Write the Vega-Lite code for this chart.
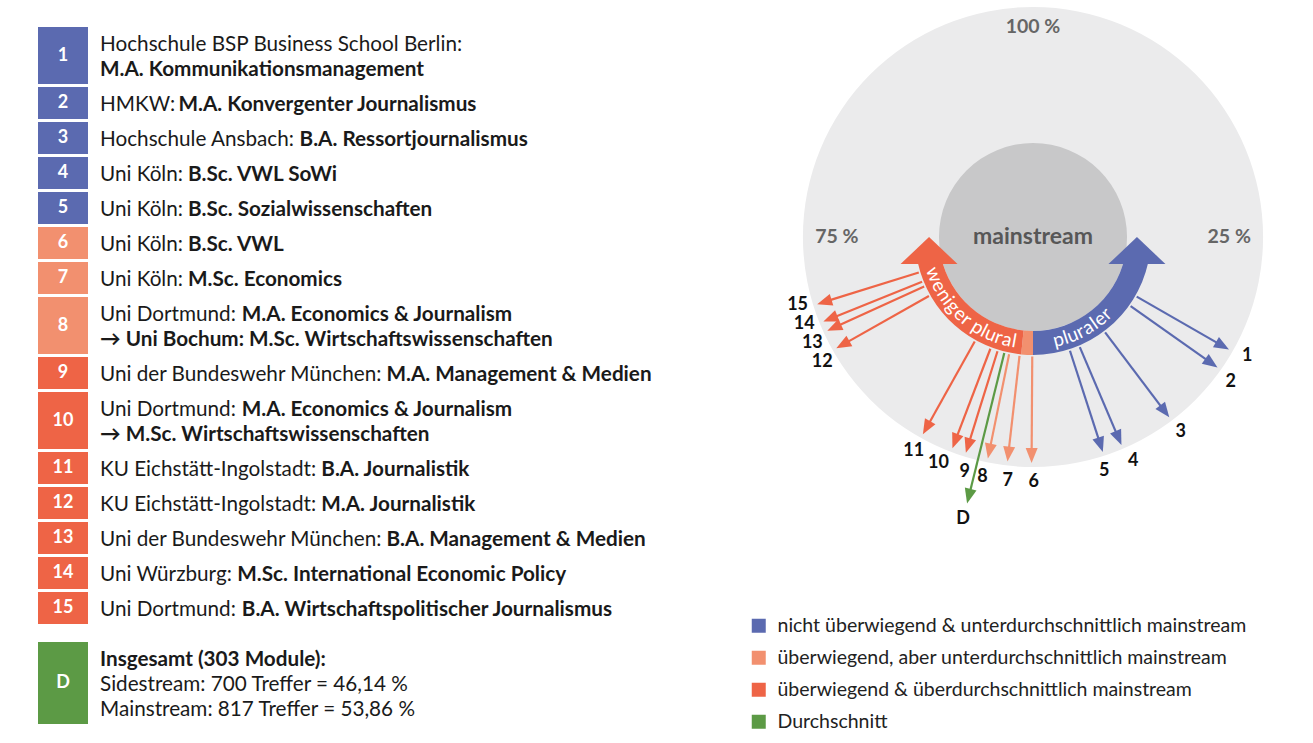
{
  "$schema": "https://vega.github.io/schema/vega-lite/v6.json",
  "width": 1313,
  "height": 743,
  "autosize": {"type": "none"},
  "padding": 0,
  "background": "white",
  "config": {
    "view": {"stroke": null},
    "font": "Lato",
    "legend": {
      "orient": "none",
      "legendX": 749,
      "legendY": 616,
      "symbolType": "square",
      "symbolSize": 196,
      "symbolStrokeWidth": 0,
      "labelFont": "Lato",
      "labelFontSize": 19.5,
      "labelColor": "#222222",
      "labelLimit": 700,
      "labelOffset": 9,
      "rowPadding": 11,
      "padding": 0
    }
  },
  "datasets": {
    "items": [
      {"i": 1, "id": "1", "cat": "nicht überwiegend & unterdurchschnittlich mainstream", "pct": 33.3, "reg": ["Hochschule BSP Business School Berlin:", ""], "bold": ["", "M.A. Kommunikationsmanagement"]},
      {"i": 2, "id": "2", "cat": "nicht überwiegend & unterdurchschnittlich mainstream", "pct": 34.8, "reg": ["HMKW: "], "bold": ["M.A. Konvergenter Journalismus"]},
      {"i": 3, "id": "3", "cat": "nicht überwiegend & unterdurchschnittlich mainstream", "pct": 39.7, "reg": ["Hochschule Ansbach: "], "bold": ["B.A. Ressortjournalismus"]},
      {"i": 4, "id": "4", "cat": "nicht überwiegend & unterdurchschnittlich mainstream", "pct": 43.6, "reg": ["Uni Köln: "], "bold": ["B.Sc. VWL SoWi"]},
      {"i": 5, "id": "5", "cat": "nicht überwiegend & unterdurchschnittlich mainstream", "pct": 45.0, "reg": ["Uni Köln: "], "bold": ["B.Sc. Sozialwissenschaften"]},
      {"i": 6, "id": "6", "cat": "überwiegend, aber unterdurchschnittlich mainstream", "pct": 50.1, "reg": ["Uni Köln: "], "bold": ["B.Sc. VWL"]},
      {"i": 7, "id": "7", "cat": "überwiegend, aber unterdurchschnittlich mainstream", "pct": 51.8, "reg": ["Uni Köln: "], "bold": ["M.Sc. Economics"]},
      {"i": 8, "id": "8", "cat": "überwiegend, aber unterdurchschnittlich mainstream", "pct": 53.2, "reg": ["Uni Dortmund: ", ""], "bold": ["M.A. Economics & Journalism", "→ Uni Bochum: M.Sc. Wirtschaftswissenschaften"]},
      {"i": 9, "id": "9", "cat": "überwiegend & überdurchschnittlich mainstream", "pct": 54.8, "reg": ["Uni der Bundeswehr München: "], "bold": ["M.A. Management & Medien"]},
      {"i": 10, "id": "10", "cat": "überwiegend & überdurchschnittlich mainstream", "pct": 55.8, "reg": ["Uni Dortmund: ", ""], "bold": ["M.A. Economics & Journalism", "→ M.Sc. Wirtschaftswissenschaften"]},
      {"i": 11, "id": "11", "cat": "überwiegend & überdurchschnittlich mainstream", "pct": 58.1, "reg": ["KU Eichstätt-Ingolstadt: "], "bold": ["B.A. Journalistik"]},
      {"i": 12, "id": "12", "cat": "überwiegend & überdurchschnittlich mainstream", "pct": 66.8, "reg": ["KU Eichstätt-Ingolstadt: "], "bold": ["M.A. Journalistik"]},
      {"i": 13, "id": "13", "cat": "überwiegend & überdurchschnittlich mainstream", "pct": 68.2, "reg": ["Uni der Bundeswehr München: "], "bold": ["B.A. Management & Medien"]},
      {"i": 14, "id": "14", "cat": "überwiegend & überdurchschnittlich mainstream", "pct": 68.9, "reg": ["Uni Würzburg: "], "bold": ["M.Sc. International Economic Policy"]},
      {"i": 15, "id": "15", "cat": "überwiegend & überdurchschnittlich mainstream", "pct": 70.2, "reg": ["Uni Dortmund: "], "bold": ["B.A. Wirtschaftspolitischer Journalismus"]},
      {"i": 16, "id": "D", "cat": "Durchschnitt", "pct": 53.86, "reg": ["", "Sidestream: 700 Treffer = 46,14 %", "Mainstream: 817 Treffer = 53,86 %"], "bold": ["Insgesamt (303 Module):", "", ""]}
    ],
    "bands": [
      {"from": 28.5, "to": 50, "cat": "nicht überwiegend & unterdurchschnittlich mainstream"},
      {"from": 50, "to": 51.6, "cat": "überwiegend, aber unterdurchschnittlich mainstream"},
      {"from": 51.6, "to": 71.5, "cat": "überwiegend & überdurchschnittlich mainstream"}
    ],
    "bandHeads": [
      {"pct": 25, "cat": "nicht überwiegend & unterdurchschnittlich mainstream"},
      {"pct": 75, "cat": "überwiegend & überdurchschnittlich mainstream"}
    ],
    "bandTexts": [
      {"txt": "weniger plural", "start": 70.3},
      {"txt": "pluraler", "start": 46.9}
    ],
    "scaleLabels": [
      {"pct": 100, "t": "100 %"},
      {"pct": 75, "t": "75 %"},
      {"pct": 25, "t": "25 %"}
    ]
  },
  "layer": [
    {
      "data": {"name": "items"},
      "transform": [
        {"calculate": "length(datum.reg)", "as": "n"},
        {"calculate": "datum.n + 0.4", "as": "h"},
        {"window": [{"op": "sum", "field": "h", "as": "cum"}], "sort": [{"field": "i", "order": "ascending"}], "frame": [null, 0]},
        {"calculate": "datum.cum - datum.h + (datum.id === 'D' ? 0.6 : 0)", "as": "top"},
        {"calculate": "datum.top + datum.n + 0.28", "as": "bot"},
        {"calculate": "(datum.top + datum.bot) / 2", "as": "mid"}
      ],
      "layer": [
        {
          "mark": {"type": "rect"},
          "encoding": {
            "x": {"datum": -2.995, "type": "quantitative", "scale": {"domain": [0, 10], "range": [100, 307], "nice": false, "zero": false}, "axis": null},
            "x2": {"datum": -0.58},
            "y": {"field": "top", "type": "quantitative", "scale": {"domain": [0, 28.6], "range": [27, 742], "nice": false, "zero": false}, "axis": null},
            "y2": {"field": "bot"},
            "color": {
              "field": "cat", "type": "nominal",
              "scale": {"domain": ["nicht überwiegend & unterdurchschnittlich mainstream", "überwiegend, aber unterdurchschnittlich mainstream", "überwiegend & überdurchschnittlich mainstream", "Durchschnitt"], "range": ["#5b6ab0", "#f2906f", "#ee6446", "#5c9a45"]},
              "legend": {"title": null}
            }
          }
        },
        {
          "mark": {"type": "text", "font": "Lato", "fontWeight": "bold", "fontSize": 18, "fill": "white", "align": "center", "baseline": "middle"},
          "encoding": {
            "x": {"datum": -1.787, "type": "quantitative"},
            "y": {"field": "mid", "type": "quantitative"},
            "text": {"field": "id"}
          }
        },
        {
          "transform": [
            {"flatten": ["reg", "bold"]},
            {"window": [{"op": "row_number", "as": "k"}], "groupby": ["id"]},
            {"calculate": "datum.top + 0.7 + datum.k - 1", "as": "ly"},
            {"calculate": "0.23*length(replace(datum.reg,regexp('[^ijlI.,:;]','g'),''))+0.33*length(replace(datum.reg,regexp('[^tf]','g'),''))+0.36*length(replace(datum.reg,regexp('[^r]','g'),''))+0.26*length(replace(datum.reg,regexp('[^ ]','g'),''))+0.35*length(replace(datum.reg,regexp('[^-]','g'),''))+0.41*length(replace(datum.reg,regexp('[^sz]','g'),''))+0.47*length(replace(datum.reg,regexp('[^c]','g'),''))+0.53*length(replace(datum.reg,regexp('[^e]','g'),''))+0.57*length(replace(datum.reg,regexp('[^od]','g'),''))+0.52*length(replace(datum.reg,regexp('[^äöü]','g'),''))+0.83*length(replace(datum.reg,regexp('[^m]','g'),''))+0.75*length(replace(datum.reg,regexp('[^w]','g'),''))+0.88*length(replace(datum.reg,regexp('[^M]','g'),''))+1.0*length(replace(datum.reg,regexp('[^W]','g'),''))+0.62*length(replace(datum.reg,regexp('[^K]','g'),''))+0.76*length(replace(datum.reg,regexp('[^DOQ]','g'),''))+0.58*length(replace(datum.reg,regexp('[^0-9]','g'),''))+0.68*length(replace(datum.reg,regexp('[^A-CE-HJLNPR-VX-ZÄÖÜ]','g'),''))+0.55*length(replace(datum.reg,regexp('[ijl.,:;tfr sczeodäöümw0-9A-ZÄÖÜ-]','g'),''))+(length(datum.reg) > 0 ? 0.12 : 0)", "as": "rw"}
          ],
          "layer": [
            {
              "mark": {"type": "text", "font": "Lato", "fontSize": 20.7, "fill": "#1a1a1a", "align": "left", "baseline": "middle"},
              "encoding": {
                "x": {"datum": 0, "type": "quantitative"},
                "y": {"field": "ly", "type": "quantitative"},
                "text": {"field": "reg"}
              }
            },
            {
              "mark": {"type": "text", "font": "Lato", "fontWeight": "bold", "fontSize": 20.7, "fill": "#1a1a1a", "align": "left", "baseline": "middle"},
              "encoding": {
                "x": {"field": "rw", "type": "quantitative"},
                "y": {"field": "ly", "type": "quantitative"},
                "text": {"field": "bold"}
              }
            }
          ]
        }
      ]
    },
    {
      "layer": [
        {
          "data": {"values": [{"c": "outer"}]},
          "mark": {"type": "arc", "radius": 230, "theta": 0, "theta2": 6.2832, "fill": "#ebebec"},
          "encoding": {
            "x": {"datum": 0, "type": "quantitative", "scale": {"domain": [-1, 1], "range": [803, 1263], "nice": false, "zero": false}, "axis": null},
            "y": {"datum": 0, "type": "quantitative", "scale": {"domain": [-1, 1], "range": [467, 7], "nice": false, "zero": false}, "axis": null}
          }
        },
        {
          "data": {"values": [{"c": "inner"}]},
          "mark": {"type": "arc", "radius": 94, "theta": 0, "theta2": 6.2832, "fill": "#c8c8c9"},
          "encoding": {
            "x": {"datum": 0, "type": "quantitative"},
            "y": {"datum": 0, "type": "quantitative"}
          }
        },
        {
          "data": {"values": [{"t": "mainstream"}]},
          "mark": {"type": "text", "font": "Lato", "fontWeight": "bold", "fontSize": 23, "fill": "#575757", "align": "center", "baseline": "middle"},
          "encoding": {
            "x": {"datum": 0, "type": "quantitative"},
            "y": {"datum": 0, "type": "quantitative"},
            "text": {"field": "t"}
          }
        },
        {
          "data": {"name": "scaleLabels"},
          "transform": [
            {"calculate": "datum.pct * PI / 50", "as": "th"},
            {"calculate": "0.853 + 0.06 * pow(cos(datum.th), 2)", "as": "sr"},
            {"calculate": "datum.sr * sin(datum.th)", "as": "px"},
            {"calculate": "datum.sr * cos(datum.th)", "as": "py"}
          ],
          "mark": {"type": "text", "font": "Lato", "fontWeight": "bold", "fontSize": 19.5, "fill": "#666666", "align": "center", "baseline": "middle"},
          "encoding": {
            "x": {"field": "px", "type": "quantitative"},
            "y": {"field": "py", "type": "quantitative"},
            "text": {"field": "t"}
          }
        },
        {
          "data": {"name": "bands"},
          "mark": {"type": "arc", "radius": 118, "radius2": 94},
          "encoding": {
            "x": {"datum": 0, "type": "quantitative"},
            "y": {"datum": 0, "type": "quantitative"},
            "theta": {"field": "from", "type": "quantitative", "stack": null, "scale": {"domain": [0, 100], "range": [0, 6.283185307179586], "nice": false, "zero": false}},
            "theta2": {"field": "to"},
            "color": {"field": "cat", "type": "nominal", "legend": null}
          }
        },
        {
          "data": {"name": "bandHeads"},
          "transform": [
            {"calculate": "datum.pct * PI / 50", "as": "th"},
            {"calculate": "0.452 * sin(datum.th)", "as": "px"},
            {"calculate": "0.452 * cos(datum.th)", "as": "py"}
          ],
          "mark": {"type": "point", "shape": "M-1,0.95L1,0.95L0,0Z", "filled": true, "opacity": 1, "size": 3249},
          "encoding": {
            "x": {"field": "px", "type": "quantitative"},
            "y": {"field": "py", "type": "quantitative"},
            "color": {"field": "cat", "type": "nominal", "legend": null}
          }
        },
        {
          "data": {"name": "bandTexts"},
          "transform": [
            {"calculate": "split(datum.txt, '')", "as": "ch"},
            {"flatten": ["ch"]},
            {"window": [{"op": "row_number", "as": "idx"}], "groupby": ["txt"]},
            {"calculate": "indexof('il', datum.ch) >= 0 ? 0.24 : datum.ch === 'w' ? 0.76 : datum.ch === 'm' ? 0.83 : datum.ch === 'r' ? 0.36 : datum.ch === ' ' ? 0.26 : 0.54", "as": "cw"},
            {"window": [{"op": "sum", "field": "cw", "as": "cc"}], "groupby": ["txt"], "sort": [{"field": "idx", "order": "ascending"}], "frame": [null, 0]},
            {"calculate": "datum.start * 3.6 - (datum.cc - datum.cw / 2) * 19 / 106 * 180 / PI", "as": "phi"},
            {"calculate": "0.461 * sin(datum.phi * PI / 180)", "as": "px"},
            {"calculate": "0.461 * cos(datum.phi * PI / 180)", "as": "py"},
            {"calculate": "datum.phi - 180", "as": "rot"}
          ],
          "mark": {"type": "text", "font": "Lato", "fontSize": 19, "fill": "white", "align": "center", "baseline": "middle"},
          "encoding": {
            "x": {"field": "px", "type": "quantitative"},
            "y": {"field": "py", "type": "quantitative"},
            "angle": {"field": "rot", "type": "quantitative", "scale": null},
            "text": {"field": "ch"}
          }
        },
        {
          "data": {"name": "items"},
          "transform": [
            {"calculate": "datum.id === 'D' ? 1 : 0", "as": "isD"},
            {"window": [{"op": "lag", "field": "pct", "as": "prv"}, {"op": "lead", "field": "pct", "as": "nxt"}], "groupby": ["isD"], "sort": [{"field": "pct", "order": "ascending"}]},
            {"calculate": "datum.pct - 0.5 * max(0, 2 - ((datum.nxt == null ? 999 : datum.nxt) - datum.pct)) + 0.5 * max(0, 2 - (datum.pct - (datum.prv == null ? -999 : datum.prv)))", "as": "lp"},
            {"calculate": "datum.pct * PI / 50", "as": "th"},
            {"calculate": "datum.lp * PI / 50", "as": "lth"},
            {"calculate": "datum.id === 'D' ? 1.194 : 0.983", "as": "tip"},
            {"calculate": "datum.id === 'D' ? 1.265 : 1.065", "as": "lr"},
            {"calculate": "0.52 * sin(datum.th)", "as": "x0"},
            {"calculate": "0.52 * cos(datum.th)", "as": "y0"},
            {"calculate": "(datum.tip - 0.033) * sin(datum.th)", "as": "x1"},
            {"calculate": "(datum.tip - 0.033) * cos(datum.th)", "as": "y1"},
            {"calculate": "datum.lr * sin(datum.lth)", "as": "xl"},
            {"calculate": "datum.lr * cos(datum.lth)", "as": "yl"},
            {"calculate": "datum.pct * 3.6", "as": "adeg"}
          ],
          "layer": [
            {
              "mark": {"type": "rule", "strokeWidth": 2.2},
              "encoding": {
                "x": {"field": "x0", "type": "quantitative"},
                "y": {"field": "y0", "type": "quantitative"},
                "x2": {"field": "x1"},
                "y2": {"field": "y1"},
                "color": {"field": "cat", "type": "nominal", "legend": null}
              }
            },
            {
              "mark": {"type": "point", "shape": "M0,-1L0.8,1L-0.8,1Z", "filled": true, "opacity": 1, "size": 225},
              "encoding": {
                "x": {"field": "x1", "type": "quantitative"},
                "y": {"field": "y1", "type": "quantitative"},
                "angle": {"field": "adeg", "type": "quantitative", "scale": null},
                "color": {"field": "cat", "type": "nominal", "legend": null}
              }
            },
            {
              "mark": {"type": "text", "font": "Lato", "fontWeight": "bold", "fontSize": 18, "fill": "#111111", "align": "center", "baseline": "middle"},
              "encoding": {
                "x": {"field": "xl", "type": "quantitative"},
                "y": {"field": "yl", "type": "quantitative"},
                "text": {"field": "id"}
              }
            }
          ]
        }
      ]
    }
  ],
  "resolve": {"scale": {"x": "independent", "y": "independent"}}
}
